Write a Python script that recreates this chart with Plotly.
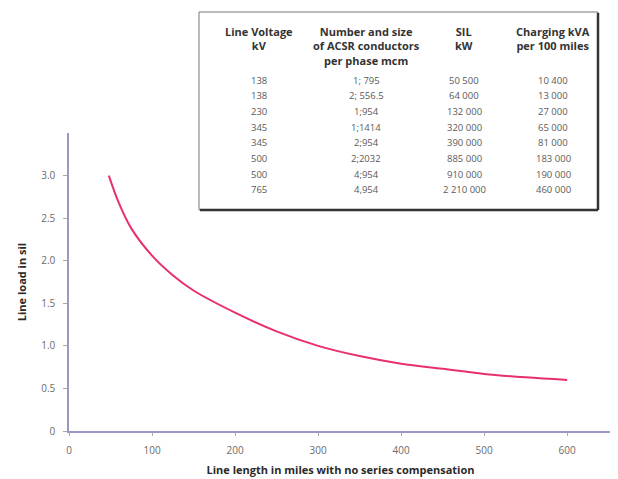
import plotly.graph_objects as go

# ---- curve data (line length in miles vs line load in SIL) ----
length_miles = [48, 60, 75, 100, 125, 150, 200, 250, 300, 350, 400, 450, 500, 550, 600]
load_sil = [3.00, 2.68, 2.38, 2.06, 1.83, 1.65, 1.39, 1.17, 1.00, 0.88, 0.79, 0.73, 0.67, 0.63, 0.60]

# ---- axis ticks ----
x_tickvals = [0, 100, 200, 300, 400, 500, 600]
x_ticktext = ["0", "100", "200", "300", "400", "500", "600"]
y_tickvals = [0, 0.5, 1.0, 1.5, 2.0, 2.5, 3.0]
y_ticktext = ["0", "0.5", "1.0", "1.5", "2.0", "2.5", "3.0"]

# ---- table data ----
table_headers = ["Line Voltage<br>kV", "Number and size<br>of ACSR conductors<br>per phase mcm",
                 "SIL<br>kW", "Charging kVA<br>per 100 miles"]
line_voltage_kv = ["138", "138", "230", "345", "345", "500", "500", "765"]
acsr_conductors = ["1; 795", "2; 556.5", "1;954", "1;1414", "2;954", "2;2032", "4;954", "4,954"]
sil_kw = ["50 500", "64 000", "132 000", "320 000", "390 000", "885 000", "910 000", "2 210 000"]
charging_kva = ["10 400", "13 000", "27 000", "65 000", "81 000", "183 000", "190 000", "460 000"]

# page body adds an 8px offset; positions below are window pixels
OFF = 8
WIN_W, WIN_H = 618, 479
W, H = WIN_W - OFF, WIN_H - OFF
PL, PR, PT, PB = 69, 612, 133, 431        # plot area in window pixels
ML, MR, MT, MB = PL - OFF, WIN_W - PR, PT - OFF, WIN_H - PB
PW, PH = PR - PL, PB - PT


def px(x):
    return (x - PL) / PW


def py(y):
    return (PB - y) / PH


fig = go.Figure()
fig.add_trace(go.Scatter(
    x=length_miles, y=load_sil, mode="lines",
    line=dict(color="#E8306A", width=2, shape="spline", smoothing=1.0),
    hoverinfo="skip", showlegend=False,
))

axis_col = "#9898c4"
tick_font = dict(family="Open Sans", size=10, color="#6a6a6a")
title_font = dict(family="Open Sans", size=11, color="#2a2a2a", weight="bold")

fig.update_layout(
    width=W, height=H,
    margin=dict(l=ML, r=MR, t=MT, b=MB, autoexpand=False),
    paper_bgcolor="white", plot_bgcolor="white",
    showlegend=False,
    xaxis=dict(range=[0, 654], tickvals=x_tickvals, ticktext=x_ticktext,
               showgrid=False, zeroline=False, showline=True, linecolor=axis_col, linewidth=1.5,
               ticks="outside", ticklen=3, tickcolor="#aaaaaa", tickfont=tick_font,
               ticklabelstandoff=6,
               title=dict(text="Line length in miles with no series compensation",
                          font=title_font, standoff=11)),
    yaxis=dict(range=[0, 3.5], tickvals=y_tickvals, ticktext=y_ticktext,
               showgrid=False, zeroline=False, showline=True, linecolor=axis_col, linewidth=1.5,
               ticks="outside", ticklen=4, tickcolor="#aaaaaa", tickfont=tick_font,
               ticklabelstandoff=6,
               title=dict(text="Line load in sil", font=title_font, standoff=12)),
)

# ---- table box ----
bx0, bx1, by0, by1 = 199, 598, 12, 210
fig.add_shape(type="rect", xref="paper", yref="paper",
              x0=px(bx0), x1=px(bx1), y0=py(by1), y1=py(by0),
              fillcolor="white", line=dict(color="#777777", width=1), layer="above")
fig.add_shape(type="line", xref="paper", yref="paper",
              x0=px(bx1), x1=px(bx1), y0=py(by1), y1=py(by0 + 1),
              line=dict(color="#333333", width=2.5), layer="above")
fig.add_shape(type="line", xref="paper", yref="paper",
              x0=px(bx0 + 1), x1=px(bx1), y0=py(by1), y1=py(by1),
              line=dict(color="#333333", width=2.5), layer="above")

col_centers = [259, 366, 464, 553]
header_font = dict(family="Open Sans", size=11, color="#333333", weight="bold")
cell_font = dict(family="Open Sans", size=9.5, color="#5a5a5a")

for cx, htxt in zip(col_centers, table_headers):
    fig.add_annotation(xref="paper", yref="paper", x=px(cx), y=py(22),
                       text=htxt, showarrow=False, xanchor="center", yanchor="top",
                       font=header_font, align="center")

row_y0, row_dy = 80, 15.7
columns = [line_voltage_kv, acsr_conductors, sil_kw, charging_kva]
for cx, col in zip(col_centers, columns):
    for i, val in enumerate(col):
        fig.add_annotation(xref="paper", yref="paper", x=px(cx), y=py(row_y0 + i * row_dy),
                           text=val, showarrow=False, xanchor="center", yanchor="middle",
                           font=cell_font)

fig.write_html("out.html")
